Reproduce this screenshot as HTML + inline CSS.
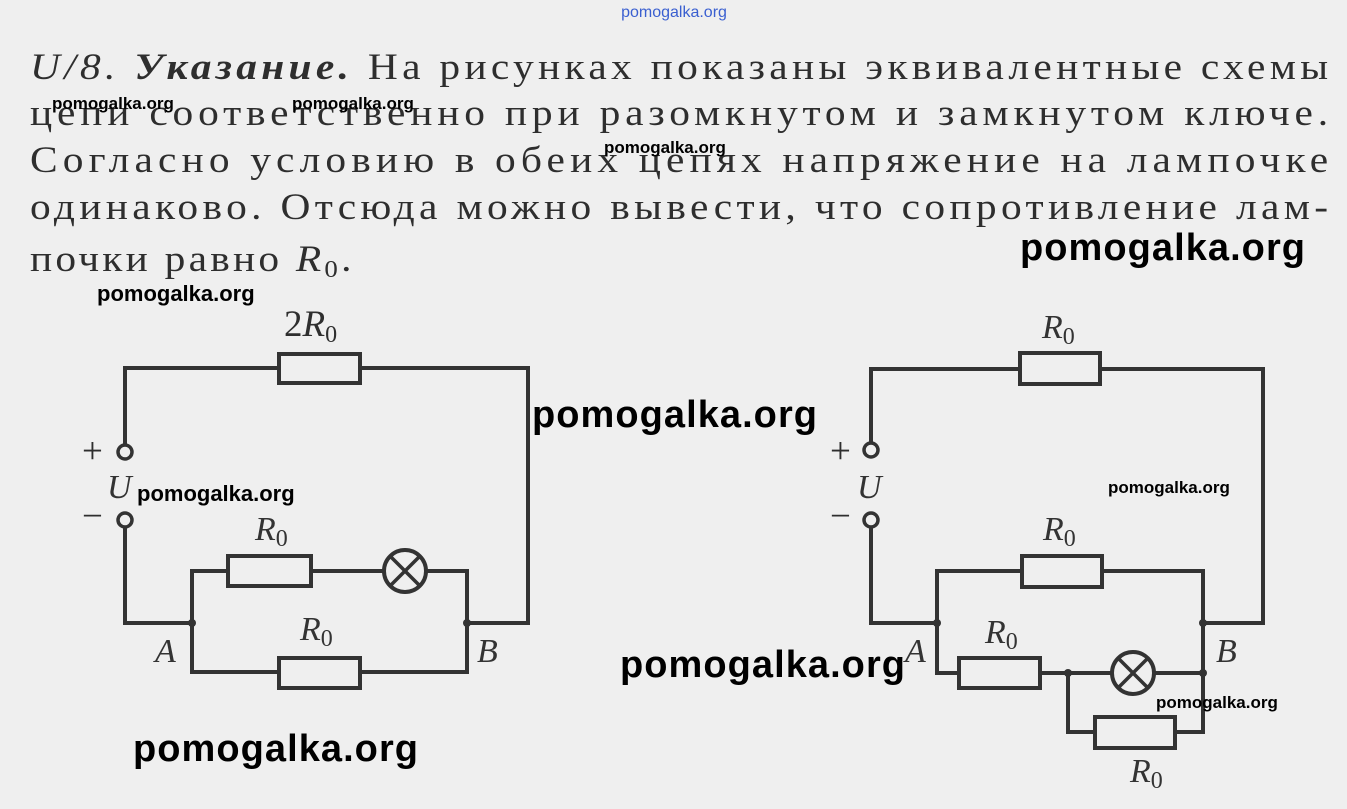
<!DOCTYPE html>
<html><head><meta charset="utf-8"><style>
html,body{margin:0;padding:0;background:#efefef;}
svg{display:block}
.t{font-family:"Liberation Serif","DejaVu Serif",serif;font-size:37px;fill:#2e2e2e}
.w{font-family:"Liberation Sans",sans-serif;font-weight:bold;fill:#000}
.l{font-family:"Liberation Serif",serif;font-style:italic;font-size:34px;fill:#333}
</style></head><body>
<svg width="1347" height="809" viewBox="0 0 1347 809" xmlns="http://www.w3.org/2000/svg">
<rect width="1347" height="809" fill="#efefef"/>
<text x="674" y="17" text-anchor="middle" font-family="Liberation Sans,sans-serif" font-size="16" fill="#3a5fd0">pomogalka.org</text>
<g transform="scale(1.12,1)">
<text class="t" x="26.8" y="79" textLength="1159" lengthAdjust="spacing"><tspan font-style="italic">U/8.</tspan> <tspan font-style="italic" font-weight="bold">Указание.</tspan> На рисунках показаны эквивалентные схемы</text>
<text class="t" x="26.8" y="125" textLength="1159" lengthAdjust="spacing">цепи соответственно при разомкнутом и замкнутом ключе.</text>
<text class="t" x="26.8" y="172" textLength="1159" lengthAdjust="spacing">Согласно условию в обеих цепях напряжение на лампочке</text>
<text class="t" x="26.8" y="219" textLength="1159" lengthAdjust="spacing">одинаково. Отсюда можно вывести, что сопротивление лам-</text>
<text class="t" x="26.8" y="271" textLength="287" lengthAdjust="spacing">почки равно <tspan font-style="italic">R</tspan><tspan font-size="24" dy="6">0</tspan><tspan dy="-6">.</tspan></text>
</g>
<g fill="none" stroke="#333" stroke-width="4">
<polyline points="125,444 125,368 279,368"/><polyline points="360,368 528,368 528,623 467,623"/>
<rect x="279" y="354" width="81" height="29" fill="#efefef"/>
<circle cx="125" cy="452" r="7" fill="#efefef" stroke-width="3.5"/>
<circle cx="125" cy="520" r="7" fill="#efefef" stroke-width="3.5"/>
<polyline points="125,528 125,623 192,623"/>
<polyline points="228,571 192,571 192,672 279,672"/><polyline points="311,571 383,571"/><polyline points="427,571 467,571 467,672 360,672"/>
<rect x="228" y="556" width="83" height="30" fill="#efefef"/>
<rect x="279" y="658" width="81" height="30" fill="#efefef"/>
<circle cx="405" cy="571" r="21" fill="#efefef"/>
<line x1="390" y1="556" x2="420" y2="586" stroke-width="3.5"/><line x1="420" y1="556" x2="390" y2="586" stroke-width="3.5"/>
<polyline points="871,442 871,369 1020,369"/><polyline points="1100,369 1263,369 1263,623 1203,623"/>
<rect x="1020" y="353" width="80" height="31" fill="#efefef"/>
<circle cx="871" cy="450" r="7" fill="#efefef" stroke-width="3.5"/>
<circle cx="871" cy="520" r="7" fill="#efefef" stroke-width="3.5"/>
<polyline points="871,528 871,623 937,623"/>
<polyline points="1022,571 937,571 937,673 959,673"/><polyline points="1102,571 1203,571 1203,732 1175,732"/>
<rect x="1022" y="556" width="80" height="31" fill="#efefef"/>
<polyline points="1040,673 1111,673"/><polyline points="1155,673 1203,673"/>
<rect x="959" y="658" width="81" height="30" fill="#efefef"/>
<polyline points="1068,673 1068,732 1095,732"/>
<rect x="1095" y="717" width="80" height="31" fill="#efefef"/>
<circle cx="1133" cy="673" r="21" fill="#efefef"/>
<line x1="1118" y1="658" x2="1148" y2="688" stroke-width="3.5"/><line x1="1148" y1="658" x2="1118" y2="688" stroke-width="3.5"/>
</g>
<g fill="#333"><circle cx="192" cy="623" r="4"/><circle cx="467" cy="623" r="4"/><circle cx="937" cy="623" r="4"/><circle cx="1203" cy="623" r="4"/><circle cx="1068" cy="673" r="4"/><circle cx="1203" cy="673" r="4"/></g>
<text class="t" x="284" y="336" font-size="36">2<tspan font-style="italic">R</tspan><tspan font-size="24" dy="6">0</tspan></text>
<text class="l" x="255" y="540">R<tspan font-style="normal" font-size="24" dy="6">0</tspan></text>
<text class="l" x="300" y="640">R<tspan font-style="normal" font-size="24" dy="6">0</tspan></text>
<text class="l" x="155" y="662">A</text><text class="l" x="477" y="662">B</text>
<text class="t" x="82" y="463" font-size="36">+</text><text class="l" x="107" y="498">U</text><text class="t" x="82" y="528" font-size="36">−</text>
<text class="l" x="1042" y="338">R<tspan font-style="normal" font-size="24" dy="6">0</tspan></text>
<text class="l" x="1043" y="540">R<tspan font-style="normal" font-size="24" dy="6">0</tspan></text>
<text class="l" x="985" y="643">R<tspan font-style="normal" font-size="24" dy="6">0</tspan></text>
<text class="l" x="1130" y="782">R<tspan font-style="normal" font-size="24" dy="6">0</tspan></text>
<text class="l" x="905" y="662">A</text><text class="l" x="1216" y="662">B</text>
<text class="t" x="830" y="463" font-size="36">+</text><text class="l" x="857" y="498">U</text><text class="t" x="830" y="528" font-size="36">−</text>
<text class="w" x="52" y="109" font-size="17">pomogalka.org</text>
<text class="w" x="292" y="109" font-size="17">pomogalka.org</text>
<text class="w" x="604" y="153" font-size="17">pomogalka.org</text>
<text class="w" x="1020" y="260" font-size="38" textLength="285">pomogalka.org</text>
<text class="w" x="97" y="301" font-size="22">pomogalka.org</text>
<text class="w" x="532" y="427" font-size="38" textLength="285">pomogalka.org</text>
<text class="w" x="137" y="501" font-size="22">pomogalka.org</text>
<text class="w" x="1108" y="493" font-size="17">pomogalka.org</text>
<text class="w" x="620" y="677" font-size="38" textLength="285">pomogalka.org</text>
<text class="w" x="1156" y="708" font-size="17">pomogalka.org</text>
<text class="w" x="133" y="761" font-size="38" textLength="285">pomogalka.org</text>
</svg>
</body></html>
